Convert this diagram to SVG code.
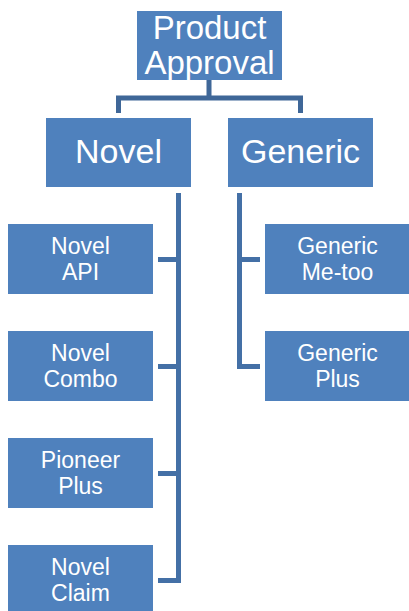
<svg xmlns="http://www.w3.org/2000/svg" width="409" height="611" viewBox="0 0 409 611">
<style>
.n{fill:#4f81bd}
.t{fill:#fff;font-family:"Liberation Sans",Arial,sans-serif;text-anchor:middle}
.big{font-size:33px}
.mid{font-size:34px}
.sm{font-size:23px}
.c{fill:none;stroke:#4470a6;stroke-width:5;stroke-linejoin:miter}
.c0{stroke:#3f6798}
</style>
<rect width="409" height="611" fill="#fff"/>
<g id="connectors">
<path class="c c0" d="M209 80V98M118.5 113V98H300.5V113"/>
<path class="c" d="M178.5 193V580.5H158M158 259.5H178.5M158 366.5H178.5M158 473.5H178.5"/>
<path class="c" d="M239.5 193V366.5H260M239.5 259.5H260"/>
</g>
<g id="product-approval">
<rect class="n" x="137" y="11" width="145" height="69"/>
<text class="t big" x="209.5" y="39">Product</text>
<text class="t big" x="209.5" y="74">Approval</text>
</g>
<g id="novel">
<rect class="n" x="46" y="118" width="145" height="69"/>
<text class="t mid" x="118.5" y="163">Novel</text>
</g>
<g id="generic">
<rect class="n" x="228" y="118" width="145" height="69"/>
<text class="t mid" x="300.5" y="163">Generic</text>
</g>
<g id="novel-api">
<rect class="n" x="8" y="224" width="145" height="70"/>
<text class="t sm" x="80.5" y="254">Novel</text>
<text class="t sm" x="80.5" y="280">API</text>
</g>
<g id="novel-combo">
<rect class="n" x="8" y="331" width="145" height="70"/>
<text class="t sm" x="80.5" y="361">Novel</text>
<text class="t sm" x="80.5" y="387">Combo</text>
</g>
<g id="pioneer-plus">
<rect class="n" x="8" y="438" width="145" height="70"/>
<text class="t sm" x="80.5" y="468">Pioneer</text>
<text class="t sm" x="80.5" y="494">Plus</text>
</g>
<g id="novel-claim">
<rect class="n" x="8" y="545" width="145" height="70"/>
<text class="t sm" x="80.5" y="575">Novel</text>
<text class="t sm" x="80.5" y="601">Claim</text>
</g>
<g id="generic-me-too">
<rect class="n" x="265" y="224" width="145" height="70"/>
<text class="t sm" x="337.5" y="254">Generic</text>
<text class="t sm" x="337.5" y="280">Me-too</text>
</g>
<g id="generic-plus">
<rect class="n" x="265" y="331" width="145" height="70"/>
<text class="t sm" x="337.5" y="361">Generic</text>
<text class="t sm" x="337.5" y="387">Plus</text>
</g>
</svg>
